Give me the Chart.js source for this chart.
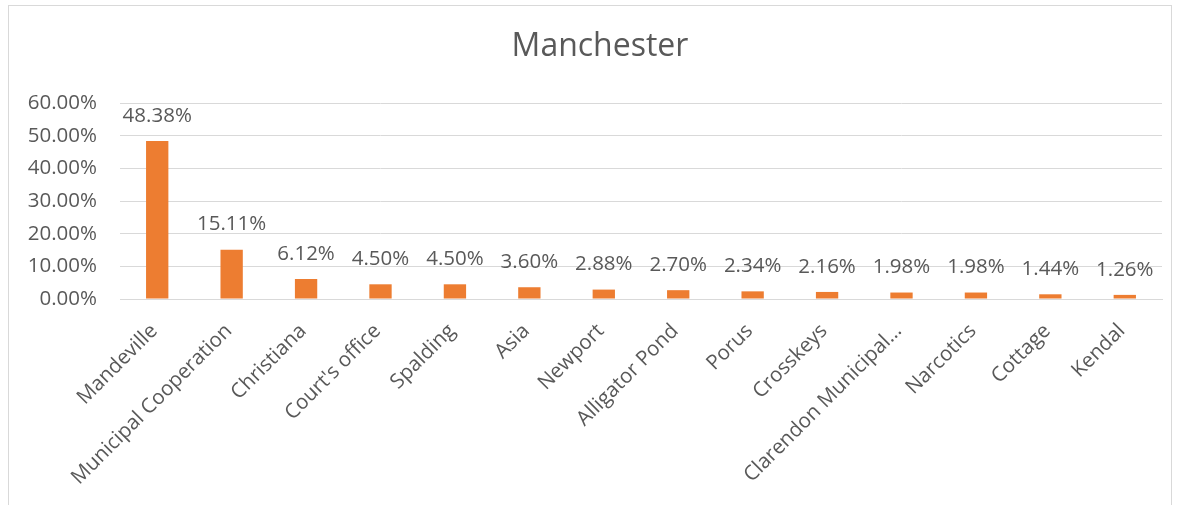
<!DOCTYPE html>
<html>
<head>
<meta charset="utf-8">
<script src="https://cdn.jsdelivr.net/npm/chart.js@4/dist/chart.umd.min.js"></script>
<style>
  html, body { margin: 0; padding: 0; background: #fff; width: 1180px; height: 505px; overflow: hidden; }
  #wrap { position: absolute; left: 0; top: 0; width: 1180px; height: 505px; }
  #frame { position: absolute; left: 8px; top: 5px; width: 1164px; height: 520px; border: 1px solid #d9d9d9; box-sizing: border-box; }
</style>
</head>
<body>
<div id="frame"></div>
<div id="wrap"><canvas id="c" width="1180" height="505"></canvas></div>
<script>
const categories = ["Mandeville", "Municipal Cooperation", "Christiana", "Court's office", "Spalding", "Asia", "Newport", "Alligator Pond", "Porus", "Crosskeys", "Clarendon Municipal…", "Narcotics", "Cottage", "Kendal"];
const values = [48.38, 15.11, 6.12, 4.50, 4.50, 3.60, 2.88, 2.70, 2.34, 2.16, 1.98, 1.98, 1.44, 1.26];
const yTicks = [0, 10, 20, 30, 40, 50, 60];
const chartTitle = "Manchester";

const FONT = "'Open Sans', sans-serif";
const TXT = '#595959';

const valueLabels = {
  id: 'valueLabels',
  afterDatasetsDraw(chart) {
    const ctx = chart.ctx;
    const meta = chart.getDatasetMeta(0);
    ctx.save();
    ctx.font = "20.5px " + FONT;
    ctx.fillStyle = TXT;
    ctx.textAlign = 'center';
    ctx.textBaseline = 'middle';
    meta.data.forEach((bar, i) => {
      ctx.fillText(values[i].toFixed(2) + '%', bar.x, bar.y - 25);
    });
    ctx.restore();
  }
};

const titleText = {
  id: 'titleText',
  afterDraw(chart) {
    const ctx = chart.ctx;
    ctx.save();
    ctx.font = "32px " + FONT;
    ctx.fillStyle = TXT;
    ctx.textAlign = 'center';
    ctx.textBaseline = 'middle';
    ctx.fillText(chartTitle, chart.width / 2 + 10, 47);
    ctx.restore();
  }
};

new Chart(document.getElementById('c'), {
  type: 'bar',
  data: {
    labels: categories,
    datasets: [{
      data: values,
      backgroundColor: '#ED7D31',
      borderWidth: 0,
      categoryPercentage: 1,
      barPercentage: 0.3
    }]
  },
  options: {
    responsive: false,
    animation: false,
    devicePixelRatio: 1,
    layout: { padding: { left: 0, right: 18, top: 103, bottom: 0 } },
    plugins: {
      legend: { display: false },
      tooltip: { enabled: false },
      title: { display: false }
    },
    scales: {
      x: {
        grid: { display: false, drawTicks: false },
        border: { display: true, color: '#d9d9d9', width: 1 },
        ticks: {
          autoSkip: false,
          minRotation: 45,
          maxRotation: 45,
          color: TXT,
          padding: 20,
          labelOffset: -3,
          font: { family: FONT, size: 20.5 }
        },
        afterFit(s) { s.height = 206; }
      },
      y: {
        min: 0,
        max: 60,
        afterBuildTicks(s) { s.ticks = yTicks.map(v => ({ value: v })); },
        grid: { color: '#d9d9d9', lineWidth: 1, drawTicks: false },
        border: { display: false },
        ticks: {
          color: TXT,
          padding: 23,
          font: { family: FONT, size: 20.5 },
          callback: v => Number(v).toFixed(2) + '%'
        },
        afterFit(s) { s.width = 120; }
      }
    }
  },
  plugins: [valueLabels, titleText]
});
</script>
</body>
</html>
